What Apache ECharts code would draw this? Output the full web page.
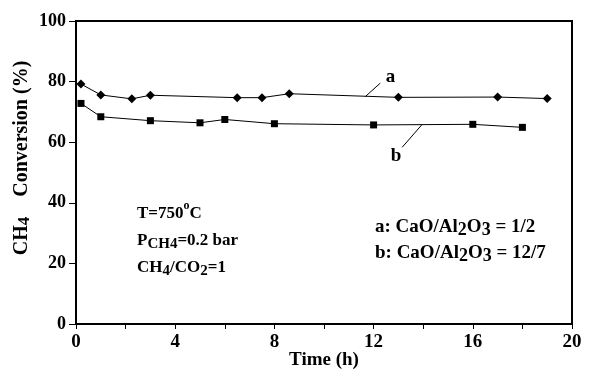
<!DOCTYPE html>
<html>
<head>
<meta charset="utf-8">
<script src="https://cdn.jsdelivr.net/npm/echarts@6/dist/echarts.min.js"></script>
<style>
  html, body { margin: 0; padding: 0; background: #fff; }
  #chart { width: 589px; height: 370px; }
</style>
</head>
<body>
<div id="chart"></div>
<script>
// series a: CaO/Al2O3 = 1/2
const timeA = [0.2, 1.0, 2.25, 3.0, 6.5, 7.5, 8.6, 13.0, 17.0, 19.0];
const convA = [79.2, 75.6, 74.3, 75.5, 74.7, 74.7, 76.0, 74.8, 74.9, 74.4];
// series b: CaO/Al2O3 = 12/7
const timeB = [0.2, 1.0, 3.0, 5.0, 6.0, 8.0, 12.0, 16.0, 18.0];
const convB = [72.8, 68.4, 67.1, 66.4, 67.5, 66.1, 65.7, 65.9, 64.9];

const xTicks = [0, 4, 8, 12, 16, 20];

const font = '"Liberation Serif", "DejaVu Serif", serif';

const chart = echarts.init(document.getElementById('chart'));

function pairs(xs, ys) {
  return xs.map((x, i) => [x, ys[i]]);
}

// little leader line from a curve to its letter
const leader = (from, to, name, offset) => ({
  silent: true,
  symbol: 'none',
  lineStyle: { color: '#000', width: 1, type: 'solid' },
  label: {
    show: true, position: 'end', formatter: name, offset: offset,
    color: '#000', fontFamily: font, fontWeight: 'bold', fontSize: 19, distance: 3
  },
  data: [[{ coord: from }, { coord: to }]]
});

const option = {
  animation: false,
  grid: {
    left: 76, right: 17, top: 21, bottom: 46,
    outerBoundsMode: 'none', containLabel: false,
    show: true, borderColor: '#000', borderWidth: 2
  },
  xAxis: {
    type: 'value', min: 0, max: 20, interval: 2,
    name: 'Time (h)', nameLocation: 'middle', nameGap: 27, nameMoveOverlap: false,
    nameTextStyle: { color: '#000', fontFamily: font, fontWeight: 'bold', fontSize: 19 },
    axisLine: { lineStyle: { color: '#000', width: 2 } },
    axisTick: { show: true, inside: false, length: 5, lineStyle: { color: '#000', width: 1 } },
    axisLabel: {
      color: '#000', fontFamily: font, fontWeight: 'bold', fontSize: 19, margin: 9,
      formatter: v => (xTicks.indexOf(v) >= 0 ? String(v) : '')
    },
    splitLine: { show: false }
  },
  yAxis: {
    type: 'value', min: 0, max: 100, interval: 20,
    axisLine: { lineStyle: { color: '#000', width: 2 } },
    axisTick: { show: true, inside: false, length: 7, lineStyle: { color: '#000', width: 1 } },
    axisLabel: { color: '#000', fontFamily: font, fontWeight: 'bold', fontSize: 18, margin: 10 },
    splitLine: { show: false }
  },
  series: [
    {
      name: 'a', type: 'line', data: pairs(timeA, convA),
      symbol: 'diamond', symbolSize: 9,
      itemStyle: { color: '#000' }, lineStyle: { color: '#000', width: 1 },
      markLine: leader([11.66, 75.0], [12.27, 79.5], 'a', [8, -4])
    },
    {
      name: 'b', type: 'line', data: pairs(timeB, convB),
      symbol: 'rect', symbolSize: 7,
      itemStyle: { color: '#000' }, lineStyle: { color: '#000', width: 1 },
      markLine: leader([13.95, 65.8], [13.15, 58.3], 'b', [-4, 6])
    }
  ],
  graphic: [
    {
      // y axis title, rotated
      type: 'text', x: 22, y: 158, rotation: Math.PI / 2,
      style: {
        text: '{b|CH}{s|4}{b|    Conversion (%)}',
        align: 'center', verticalAlign: 'middle',
        rich: {
          b: { fontFamily: font, fontWeight: 'bold', fontSize: 20, color: '#000' },
          s: { fontFamily: font, fontWeight: 'bold', fontSize: 17, color: '#000', padding: [6, 0, 0, 0] }
        }
      }
    },
    {
      type: 'text', left: 137, top: 200,
      style: {
        text: '{n|T=750}{sup|o}{n|C}\n{n|P}{sub|CH}{sub2|4}{n|=0.2 bar}\n{n|CH}{sub2|4}{n|/CO}{sub2|2}{n|=1}',
        rich: {
          n: { fontFamily: font, fontWeight: 'bold', fontSize: 17, color: '#000', lineHeight: 27 },
          sup: { fontFamily: font, fontWeight: 'bold', fontSize: 12, color: '#000', lineHeight: 27, verticalAlign: 'top', padding: [0, 0, 10, 0] },
          sub: { fontFamily: font, fontWeight: 'bold', fontSize: 15, color: '#000', lineHeight: 27, padding: [8, 0, 0, 0] },
          sub2: { fontFamily: font, fontWeight: 'bold', fontSize: 15, color: '#000', lineHeight: 27, padding: [8, 0, 0, 0] }
        }
      }
    },
    {
      type: 'text', left: 375, top: 215,
      style: {
        text: '{n|a: CaO/Al}{s|2}{n|O}{s|3}{n| = 1/2}\n{n|b: CaO/Al}{s|2}{n|O}{s|3}{n| = 12/7}',
        rich: {
          n: { fontFamily: font, fontWeight: 'bold', fontSize: 19, color: '#000', lineHeight: 26 },
          s: { fontFamily: font, fontWeight: 'bold', fontSize: 18, color: '#000', lineHeight: 26, padding: [6, 0, 0, 0] }
        }
      }
    }
  ]
};

chart.setOption(option);
</script>
</body>
</html>
